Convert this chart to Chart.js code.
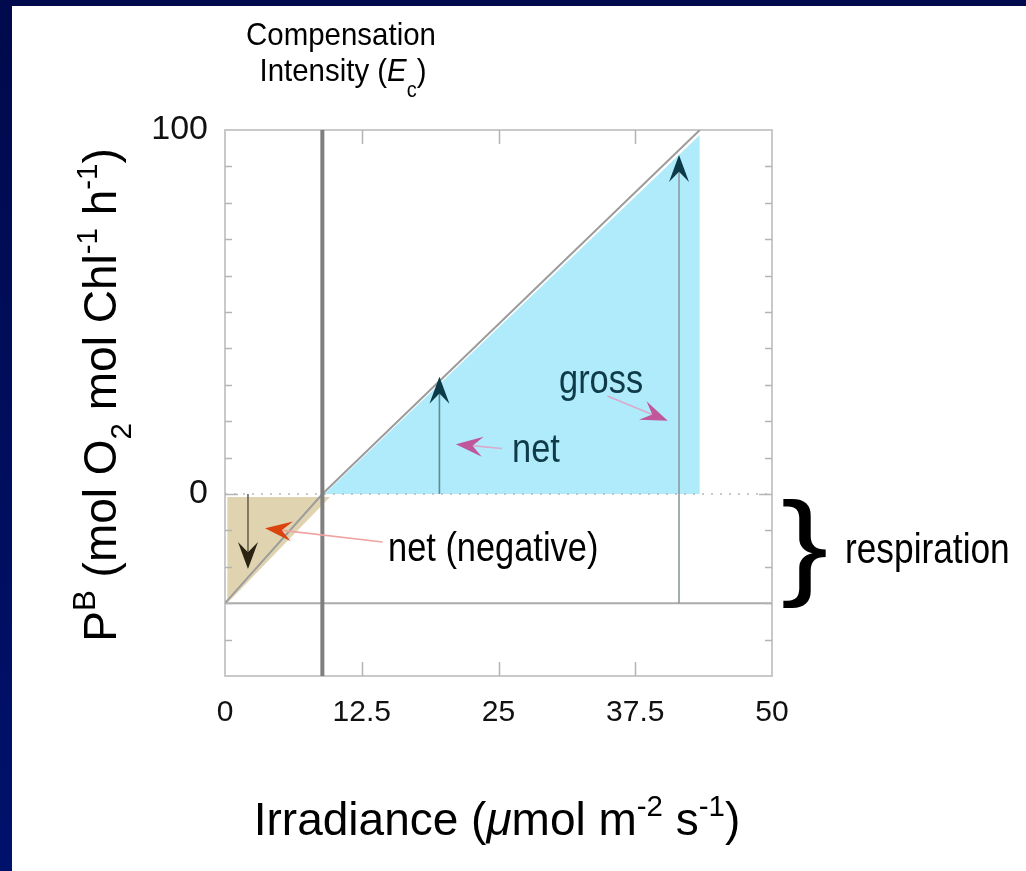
<!DOCTYPE html>
<html><head><meta charset="utf-8">
<script src="https://cdn.jsdelivr.net/npm/chart.js@4.4.1/dist/chart.umd.min.js"></script>
<style>
html,body{margin:0;padding:0;background:#fff;}
#wrap{position:relative;width:1026px;height:871px;overflow:hidden;background:#fff;}
#topbar{position:absolute;left:0;top:0;width:1026px;height:6px;background:#000a4c;}
#leftbar{position:absolute;left:0;top:0;width:12px;height:871px;background:linear-gradient(#000a4c,#00116c);}
canvas{position:absolute;left:0;top:0;}
</style></head><body>
<div id="wrap"><canvas id="c" width="1026" height="871"></canvas><div id="topbar"></div><div id="leftbar"></div></div>
<script>
// ---- data ----
const xTickValues = [0, 12.5, 25, 37.5, 50];
const xTickLabels = ['0', '12.5', '25', '37.5', '50'];
const yTickLabelValues = [0, 100];
const yTickLabels = ['0', '100'];
const pbCurveX = [0, 8.9, 43.4];
const pbCurveY = [-30, 0, 100];
const compensationX = 8.9;
const respirationY = -30;
const grossFillX = [9.1, 43.4];
const grossFillY = [0, 98.6];
const negFillX = [0.2, 9.6];
const negFillY = [-30, -0.8];
const negFillTop = -0.8;
// arrows: down(net neg), pointer(net neg), up(net), up(gross), pointer(net), pointer(gross)
const arrowFromX = [2.1, 14.4, 19.6, 41.5, 25.3, 34.95];
const arrowFromY = [0, -13.2, 0, -30, 12.5, 26.9];
const arrowToX   = [2.1, 3.66, 19.6, 41.5, 21.1, 40.47];
const arrowToY   = [-20.6, -9.42, 32.2, 93.1, 13.7, 20.1];
const labelTexts = ['net (negative)', 'net', 'gross', 'respiration'];

// ---- styles ----
const FF = '"Liberation Sans", Arial, Helvetica, sans-serif';
const arrowShaft = ['#6b6250', '#f0a3a0', '#5d8c96', '#8e9a9e', '#d9aacb', '#d9aacb'];
const arrowHead  = ['#2b2412', '#d9440f', '#0c3a48', '#0c3a48', '#c0579a', '#c0579a'];

function pts(xs, ys){ return xs.map((x,i)=>({x:x, y:ys[i]})); }

function segFont(s, size){
  const sz = s.v ? size*(s.r||0.64) : size;
  return (s.i ? 'italic ' : '') + sz + 'px ' + FF;
}
function richWidth(ctx, segs, size){
  let w = 0;
  for (const s of segs){ ctx.font = segFont(s,size); w += ctx.measureText(s.t).width; }
  return w;
}
function drawRich(ctx, segs, x, y, size, align, sx, color){
  ctx.save();
  ctx.translate(x, y);
  ctx.scale(sx||1, 1);
  ctx.fillStyle = color || '#000';
  ctx.textBaseline = 'alphabetic';
  ctx.textAlign = 'left';
  const w = richWidth(ctx, segs, size);
  let cx = align === 'center' ? -w/2 : (align === 'right' ? -w : 0);
  for (const s of segs){
    ctx.font = segFont(s,size);
    const dy = s.v === 'sup' ? -size*(s.o||0.42) : (s.v === 'sub' ? size*(s.o||0.3) : 0);
    ctx.fillText(s.t, cx, dy);
    cx += ctx.measureText(s.t).width;
  }
  ctx.restore();
}
function arrow(ctx, x1, y1, x2, y2, shaft, head){
  const dx = x2-x1, dy = y2-y1, L = Math.hypot(dx,dy);
  const ux = dx/L, uy = dy/L, nx = -uy, ny = ux;
  const HL = 27, HW = 10, notch = 0.62;
  ctx.save();
  ctx.strokeStyle = shaft; ctx.lineWidth = 1.6;
  ctx.beginPath(); ctx.moveTo(x1,y1); ctx.lineTo(x2-ux*HL*0.5, y2-uy*HL*0.5); ctx.stroke();
  ctx.fillStyle = head;
  ctx.beginPath();
  ctx.moveTo(x2,y2);
  ctx.lineTo(x2-ux*HL+nx*HW, y2-uy*HL+ny*HW);
  ctx.lineTo(x2-ux*HL*notch, y2-uy*HL*notch);
  ctx.lineTo(x2-ux*HL-nx*HW, y2-uy*HL-ny*HW);
  ctx.closePath(); ctx.fill();
  ctx.restore();
}

const deco = {
  id: 'deco',
  beforeDatasetsDraw(chart){
    const c = chart.ctx, a = chart.chartArea;
    c.save();
    c.strokeStyle = '#c9c9c9'; c.lineWidth = 2;
    c.strokeRect(a.left, a.top, a.right-a.left, a.bottom-a.top);
    c.restore();
  },
  afterDatasetsDraw(chart){
    const c = chart.ctx, a = chart.chartArea, xs = chart.scales.x, ys = chart.scales.y;
    // inward tick marks
    c.save();
    c.strokeStyle = '#b4b4b4'; c.lineWidth = 1.5;
    c.beginPath();
    ys.ticks.forEach(t => {
      if (t.value <= ys.min || t.value >= ys.max) return;
      const y = Math.round(ys.getPixelForValue(t.value)) + 0.5;
      const len = t.value === 0 ? 13 : 7;
      c.moveTo(a.left, y); c.lineTo(a.left+len, y);
      c.moveTo(a.right, y); c.lineTo(a.right-len, y);
    });
    xs.ticks.forEach(t => {
      if (t.value <= xs.min || t.value >= xs.max) return;
      const x = Math.round(xs.getPixelForValue(t.value)) + 0.5;
      c.moveTo(x, a.bottom); c.lineTo(x, a.bottom-14);
      c.moveTo(x, a.top); c.lineTo(x, a.top+14);
    });
    c.stroke();
    c.restore();
    // arrows
    for (let i = 0; i < arrowFromX.length; i++){
      arrow(c, xs.getPixelForValue(arrowFromX[i]), ys.getPixelForValue(arrowFromY[i]),
               xs.getPixelForValue(arrowToX[i]), ys.getPixelForValue(arrowToY[i]),
               arrowShaft[i], arrowHead[i]);
    }
  },
  afterDraw(chart){
    const c = chart.ctx;
    // annotation texts
    drawRich(c, [{t:labelTexts[0]}], 388, 561, 40, 'left', 0.86, '#000');
    drawRich(c, [{t:labelTexts[1]}], 512, 462, 40, 'left', 0.86, '#0f3a48');
    drawRich(c, [{t:labelTexts[2]}], 559, 393, 40, 'left', 0.86, '#0f3a48');
    drawRich(c, [{t:labelTexts[3]}], 845, 563, 42, 'left', 0.84, '#000');
    // brace
    c.save();
    c.translate(781, 584);
    c.scale(1.22, 1);
    c.font = '116px ' + FF;
    c.fillStyle = '#000';
    c.textBaseline = 'alphabetic';
    c.fillText('}', 0, 0);
    c.restore();
    // compensation intensity label
    drawRich(c, [{t:'Compensation'}], 341, 45, 32, 'center', 0.92, '#000');
    drawRich(c, [{t:'Intensity ('},{t:'E', i:true},{t:'c', v:'sub', o:0.5, r:0.68},{t:')'}], 343, 81, 32, 'center', 0.92, '#000');
    // x axis title
    drawRich(c, [{t:'Irradiance ('},{t:'\u03bc', i:true},{t:'mol m'},{t:'-2', v:'sup'},{t:' s'},{t:'-1', v:'sup'},{t:')'}], 497, 835, 46, 'center', 1, '#000');
    // y axis title
    c.save();
    c.translate(116, 395);
    c.rotate(-Math.PI/2);
    drawRich(c, [{t:'P'},{t:'B', v:'sup', o:0.45, r:0.68},{t:' (mol O'},{t:'2', v:'sub', o:0.32, r:0.64},{t:' mol Chl'},{t:'-1', v:'sup'},{t:' h'},{t:'-1', v:'sup'},{t:')'}], 0, 0, 46, 'center', 1, '#000');
    c.restore();
  }
};

new Chart(document.getElementById('c').getContext('2d'), {
  type: 'line',
  data: { datasets: [
    { label:'negative net', data: pts(negFillX, negFillY), borderWidth:0, pointRadius:0, backgroundColor:'#e0d4b0', fill:{value: negFillTop}, order:6 },
    { label:'gross', data: pts(grossFillX, grossFillY), borderWidth:0, pointRadius:0, backgroundColor:'#afebfa', fill:'origin', order:6 },
    { label:'zero', data: pts([0,50],[0,0]), borderColor:'#b8b8b8', borderWidth:1.5, borderDash:[2,7], pointRadius:0, fill:false, order:4 },
    { label:'respiration', data: pts([0,50],[respirationY,respirationY]), borderColor:'#ababab', borderWidth:2, pointRadius:0, fill:false, order:3 },
    { label:'P vs E', data: pts(pbCurveX, pbCurveY), borderColor:'#9c9c9c', borderWidth:2, pointRadius:0, fill:false, order:2 },
    { label:'Ec', data: pts([compensationX, compensationX],[-50,100]), borderColor:'#7f7f7f', borderWidth:4, pointRadius:0, fill:false, order:1 }
  ]},
  options: {
    responsive:false, animation:false, events:[],
    layout:{ padding:{ left:0, top:130, right:254, bottom:0 } },
    plugins:{ legend:{display:false}, tooltip:{enabled:false} },
    scales:{
      x:{ type:'linear', min:0, max:50,
          afterBuildTicks: s => { s.ticks = xTickValues.map(v => ({value:v})); },
          ticks:{ callback: v => { const i = xTickValues.indexOf(v); return i >= 0 ? xTickLabels[i] : ''; },
                  font:{family:FF, size:30}, color:'#111', padding:11, maxRotation:0, autoSkip:false },
          grid:{display:false}, border:{display:false},
          afterFit: s => { s.height = 195; } },
      y:{ type:'linear', min:-50, max:100,
          ticks:{ stepSize:10, autoSkip:false,
                  callback: v => { const i = yTickLabelValues.indexOf(v); return i >= 0 ? yTickLabels[i] : ''; },
                  font:{family:FF, size:34}, color:'#111', padding:9 },
          grid:{display:false}, border:{display:false},
          afterFit: s => { s.width = 225; } }
    }
  },
  plugins:[deco]
});
</script>
</body></html>
